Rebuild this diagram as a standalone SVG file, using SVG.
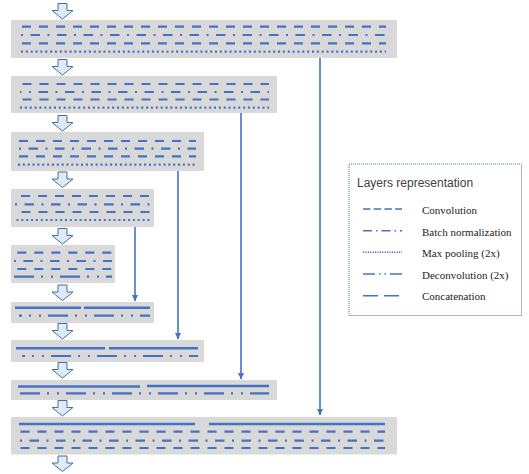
<svg xmlns="http://www.w3.org/2000/svg" xmlns:xlink="http://www.w3.org/1999/xlink" width="529" height="474" viewBox="0 0 529 474">
<style>
.blk{fill:#D9D9D9}
.ln{stroke:#4472C4;fill:none}
.conv{stroke-width:2.2;stroke-dasharray:9 8}
.bn{stroke-width:2.2;stroke-dasharray:2 7.5 9.5 7.5}
.pool{stroke-width:2.2;stroke-dasharray:2 2.85}
.dec{stroke-width:2.2;stroke-dasharray:20 7 2 8 2 7}
.cat{stroke-width:2.6}
.barrow{fill:#DEEBF7;stroke:#41719C;stroke-width:1}
.conn{stroke:#4472C4;stroke-width:1.6;fill:none}
.lg{stroke:#4472C4;fill:none;stroke-width:1.6}
.lt{font-family:"Liberation Serif",serif;font-size:11px;fill:#222}
</style>
<defs>
<path id="ba" class="barrow" d="M-4.5,0 h9 v7 h6 l-10.5,8.5 l-10.5,-8.5 h6 z"/>
<marker id="ah" markerWidth="7" markerHeight="7" refX="6" refY="3.5" orient="auto" markerUnits="userSpaceOnUse">
<path d="M0,0.5 L6.5,3.5 L0,6.5 z" fill="#4472C4"/>
</marker>
</defs>

<g id="flow-arrows">
<use href="#ba" x="62.5" y="3.5"/>
<use href="#ba" x="62.5" y="59.5"/>
<use href="#ba" x="62.5" y="115.5"/>
<use href="#ba" x="62.5" y="172"/>
<use href="#ba" x="62.5" y="228.5"/>
<use href="#ba" x="62.5" y="285"/>
<use href="#ba" x="62.5" y="323.5"/>
<use href="#ba" x="62.5" y="362.5"/>
<use href="#ba" x="62.5" y="400.5"/>
<use href="#ba" x="62.5" y="456"/>
</g>

<g id="block1">
<rect class="blk" x="11" y="20" width="386" height="38"/>
<line class="ln conv" x1="22" y1="26.7" x2="386" y2="26.7"/>
<line class="ln bn" x1="21" y1="35" x2="386" y2="35"/>
<line class="ln conv" x1="22" y1="43.3" x2="386" y2="43.3"/>
<line class="ln pool" x1="21" y1="51.7" x2="386" y2="51.7"/>
</g>

<g id="block2">
<rect class="blk" x="11" y="76" width="266" height="37"/>
<line class="ln conv" x1="22.5" y1="84" x2="269" y2="84"/>
<line class="ln bn" x1="20" y1="92" x2="269" y2="92" stroke-dashoffset="-9"/>
<line class="ln conv" x1="22.5" y1="99.5" x2="269" y2="99.5"/>
<line class="ln pool" x1="20" y1="107.7" x2="269" y2="107.7"/>
</g>

<g id="block3">
<rect class="blk" x="11" y="132" width="193" height="39"/>
<line class="ln conv" x1="19" y1="141" x2="196" y2="141"/>
<line class="ln bn" x1="19" y1="148.7" x2="196" y2="148.7"/>
<line class="ln conv" x1="19" y1="156.3" x2="196" y2="156.3"/>
<line class="ln pool" x1="18" y1="164.7" x2="196" y2="164.7"/>
</g>

<g id="block4">
<rect class="blk" x="11" y="189" width="143" height="38"/>
<line class="ln conv" x1="21" y1="196" x2="150" y2="196"/>
<line class="ln bn" x1="15" y1="204.3" x2="150" y2="204.3" stroke-dasharray="1 8.5 2 7.5 10 7.5 2 7.5 10 7.5 2 7.5 10 7.5 2 7.5 10 7.5 2 7.5 10 7.5 2 7.5 10"/>
<line class="ln conv" x1="21.5" y1="212" x2="150" y2="212"/>
<line class="ln pool" x1="16.5" y1="220" x2="150" y2="220"/>
</g>

<g id="block5">
<rect class="blk" x="11" y="245" width="104" height="38"/>
<line class="ln conv" x1="17.3" y1="252.7" x2="112" y2="252.7"/>
<line class="ln bn" x1="14" y1="261" x2="112" y2="261"/>
<line class="ln conv" x1="17.3" y1="269" x2="112" y2="269"/>
<line class="ln dec" x1="14" y1="276.7" x2="112" y2="276.7" stroke-dasharray="5 8 2 8 2 8 19 8 2 8 2 8 19"/>
</g>

<g id="block6">
<rect class="blk" x="11" y="302" width="143" height="21"/>
<line class="ln cat" x1="15" y1="307.7" x2="81" y2="307.7"/>
<line class="ln cat" x1="84" y1="307.7" x2="150" y2="307.7"/>
<line class="ln dec" x1="19" y1="315.7" x2="150" y2="315.7" stroke-dashoffset="-29"/>
</g>

<g id="block7">
<rect class="blk" x="11" y="340" width="193" height="22"/>
<line class="ln cat" x1="16" y1="348.3" x2="105" y2="348.3"/>
<line class="ln cat" x1="109" y1="348.3" x2="198" y2="348.3"/>
<line class="ln dec" x1="22" y1="356" x2="198" y2="356" stroke-dashoffset="-29"/>
</g>

<g id="block8">
<rect class="blk" x="11" y="380" width="266" height="20"/>
<line class="ln cat" x1="18" y1="386.5" x2="140" y2="386.5"/>
<line class="ln cat" x1="147" y1="386" x2="269" y2="386"/>
<line class="ln dec" x1="20" y1="393.3" x2="269" y2="393.3"/>
</g>

<g id="block9">
<rect class="blk" x="11" y="417" width="386" height="37.5"/>
<line class="ln cat" x1="19" y1="424" x2="195" y2="424"/>
<line class="ln cat" x1="209" y1="424" x2="385" y2="424"/>
<line class="ln conv" x1="20.5" y1="431.7" x2="385" y2="431.7"/>
<line class="ln bn" x1="20" y1="440.7" x2="385" y2="440.7"/>
<line class="ln conv" x1="20.5" y1="448" x2="385" y2="448"/>
</g>

<g id="connectors">
<line class="conn" x1="320" y1="58" x2="320" y2="415" marker-end="url(#ah)"/>
<line class="conn" x1="241" y1="113" x2="241" y2="379" marker-end="url(#ah)"/>
<line class="conn" x1="178" y1="171" x2="178" y2="339" marker-end="url(#ah)"/>
<line class="conn" x1="135" y1="227" x2="135" y2="301" marker-end="url(#ah)"/>
</g>

<g id="legend">
<rect x="349" y="164" width="172.5" height="151.5" fill="none" stroke="#4F74B8" stroke-width="1" stroke-dasharray="1 1"/>
<text x="357" y="187" font-family="'Liberation Sans',sans-serif" font-size="12" fill="#404040">Layers representation</text>
<line class="lg" x1="363" y1="209" x2="402" y2="209" stroke-dasharray="7.5 3.2"/>
<text class="lt" x="422" y="213.5">Convolution</text>
<line class="lg" x1="363" y1="230.7" x2="402" y2="230.7" stroke-dasharray="9 4 1.5 4"/>
<text class="lt" x="422" y="235.5">Batch normalization</text>
<line class="lg" x1="363" y1="252.3" x2="402" y2="252.3" stroke-dasharray="1.2 1.2" stroke-width="1.5"/>
<text class="lt" x="422" y="257">Max pooling (2x)</text>
<line class="lg" x1="363" y1="274" x2="402" y2="274" stroke-dasharray="12 4 1.5 4 1.5 4"/>
<text class="lt" x="422" y="278.5">Deconvolution (2x)</text>
<line class="lg" x1="363" y1="295.7" x2="402" y2="295.7" stroke-dasharray="15 6" stroke-width="2.4"/>
<text class="lt" x="422" y="300">Concatenation</text>
</g>
</svg>
